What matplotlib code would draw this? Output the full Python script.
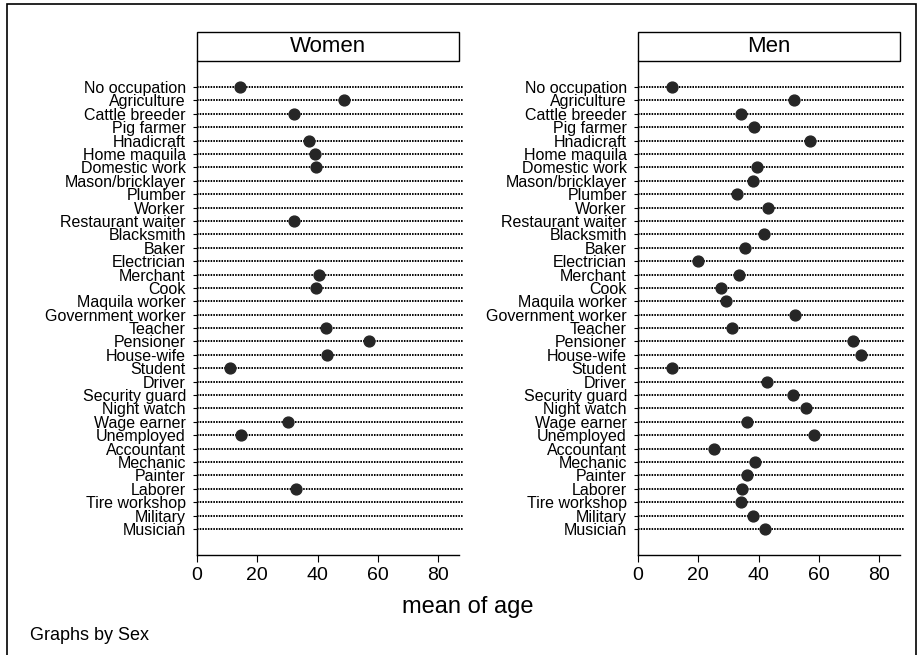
import numpy as np
import matplotlib
matplotlib.use("Agg")
import matplotlib.pyplot as plt
from matplotlib.patches import Rectangle

plt.rcParams['font.family'] = ['Liberation Sans', 'DejaVu Sans']

occupations = [
    "No occupation", "Agriculture", "Cattle breeder", "Pig farmer", "Hnadicraft",
    "Home maquila", "Domestic work", "Mason/bricklayer", "Plumber", "Worker",
    "Restaurant waiter", "Blacksmith", "Baker", "Electrician", "Merchant", "Cook",
    "Maquila worker", "Government worker", "Teacher", "Pensioner", "House-wife",
    "Student", "Driver", "Security guard", "Night watch", "Wage earner",
    "Unemployed", "Accountant", "Mechanic", "Painter", "Laborer",
    "Tire workshop", "Military", "Musician",
]

nan = np.nan
women_age = [
    14.2, 48.8, 32.1, nan, 37.2, 39.1, 39.5, nan, nan, nan,
    32.1, nan, nan, nan, 40.5, 39.4, nan, nan, 42.9, 57.1,
    43.2, 10.9, nan, nan, nan, 30.3, 14.6, nan, nan, nan,
    32.9, nan, nan, nan,
]
men_age = [
    11.1, 51.8, 34.1, 38.4, 57.0, nan, 39.3, 38.2, 32.8, 43.1,
    nan, 41.7, 35.4, 20.0, 33.6, 27.5, 29.3, 51.9, 31.1, 71.1,
    73.8, 11.3, 42.8, 51.2, 55.7, 36.2, 58.2, 25.1, 38.7, 36.1,
    34.5, 34.1, 38.1, 42.0,
]
panels = ["Women", "Men"]
x_ticks = [0, 20, 40, 60, 80]

W, H = 919, 655
fig = plt.figure(figsize=(W / 100, H / 100), dpi=100)

# outer frame
fig.patches.append(Rectangle((7 / W, -0.01), (916 - 7) / W, 1.01 - 4 / H,
                             transform=fig.transFigure, fill=False,
                             edgecolor='black', linewidth=1.2))

ax_bottom = 1 - 555 / H
ax_height = (555 - 61) / H
ax_width = 262 / W
lefts = [197 / W, 638 / W]
y = np.arange(len(occupations))

for left, title, values in zip(lefts, panels, [women_age, men_age]):
    ax = fig.add_axes([left, ax_bottom, ax_width, ax_height])
    for yi in y:
        ax.plot([0, 88.2], [yi, yi], color='black', linewidth=1.4,
                linestyle=(0, (0.8, 0.6)), solid_capstyle='butt', zorder=1,
                clip_on=False)
    ax.plot(values, y, 'o', color='#262626', markersize=7.8, zorder=3)
    ax.set_xlim(0, 86.8)
    ax.set_ylim(len(occupations) - 1 + 1.94, -1.94)
    ax.set_yticks(y)
    ax.set_yticklabels(occupations, fontsize=11.5)
    ax.set_xticks(x_ticks)
    ax.tick_params(axis='y', length=3, width=0.8, pad=5)
    ax.tick_params(axis='x', length=5, width=0.8, pad=4, labelsize=14)
    for side in ['top', 'right']:
        ax.spines[side].set_visible(False)
    ax.spines['left'].set_linewidth(1.0)
    ax.spines['bottom'].set_linewidth(1.0)

    # header box
    fig.patches.append(Rectangle((left, 1 - 60.7 / H), ax_width, 28.4 / H,
                                 transform=fig.transFigure, fill=False,
                                 edgecolor='black', linewidth=1.0))
    fig.text(left + ax_width / 2, 1 - 46.5 / H, title, ha='center', va='center',
             fontsize=16)

fig.text(468 / W, 1 - 607 / H, "mean of age", ha='center', va='center', fontsize=17)
fig.text(30 / W, 1 - 636 / H, "Graphs by Sex", ha='left', va='center', fontsize=13)

fig.savefig("out.png", dpi=100)
